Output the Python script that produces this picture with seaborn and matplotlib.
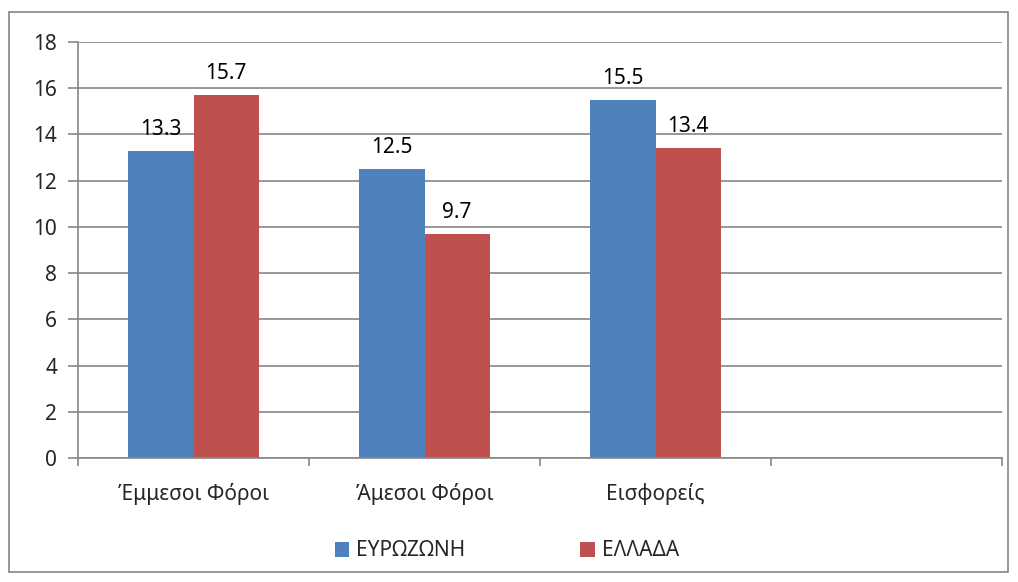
import matplotlib
matplotlib.use("Agg")
import matplotlib.pyplot as plt
from matplotlib.patches import Rectangle
import pandas as pd
import seaborn as sns

# Data
categories = ['Έμμεσοι Φόροι', 'Άμεσοι Φόροι', 'Εισφορείς']
eurozone = [13.3, 12.5, 15.5]
greece = [15.7, 9.7, 13.4]
series_names = ['ΕΥΡΩΖΩΝΗ', 'ΕΛΛΑΔΑ']
yticks = [0, 2, 4, 6, 8, 10, 12, 14, 16, 18]

df = pd.DataFrame({
    'category': categories * 2,
    'value': eurozone + greece,
    'series': [series_names[0]] * len(categories) + [series_names[1]] * len(categories),
})

sns.set_theme(style='white')
plt.rcParams['font.family'] = ['Noto Sans', 'DejaVu Sans']

fs = 15
grid_col = '#868686'
fig = plt.figure(figsize=(10.18, 5.82), dpi=100)
ax = fig.add_axes([78 / 1018, 1 - 458 / 582, (1002 - 78) / 1018, (458 - 42) / 582])

sns.barplot(data=df, x='category', y='value', hue='series',
            order=categories + [' '],
            palette=['#4F81BD', '#C0504D'], width=0.565,
            saturation=1, ax=ax, legend=True, linewidth=0)

for cont in ax.containers:
    ax.bar_label(cont, fmt='%.1f', padding=8, fontsize=fs, color='black')

ax.set_xlim(-0.5, 3.5)
ax.set_ylim(0, 18)
ax.set_yticks(yticks)
ax.set_yticklabels([str(t) for t in yticks], fontsize=fs)
ax.yaxis.grid(True, color=grid_col, linewidth=1.2)
ax.set_axisbelow(True)
ax.set_xlabel('')
ax.set_ylabel('')
ax.set_xticks(range(4))
ax.set_xticklabels(categories + [''], fontsize=fs)
ax.set_xticks([-0.5, 0.5, 1.5, 2.5, 3.5], minor=True)
ax.tick_params(axis='x', which='major', length=0, pad=18)
ax.tick_params(axis='x', which='minor', length=6, color=grid_col, width=1.2, direction='out', bottom=True)
ax.tick_params(axis='y', length=7, color=grid_col, width=1.2, left=True, pad=8)

for side in ['top', 'right']:
    ax.spines[side].set_visible(False)
for side in ['left', 'bottom']:
    ax.spines[side].set_color(grid_col)
    ax.spines[side].set_linewidth(1.2)

leg = ax.legend(loc='center', bbox_to_anchor=(507 / 1018, 1 - 551 / 582), bbox_transform=fig.transFigure,
                ncol=2, frameon=False, fontsize=fs, handlelength=0.7, handleheight=0.7,
                handletextpad=0.35, columnspacing=5.5)

fig.patches.append(Rectangle((9 / 1018, 1 - 572 / 582), (1008 - 9) / 1018, (572 - 12) / 582,
                             transform=fig.transFigure, fill=False, edgecolor=grid_col, linewidth=1.2))

fig.savefig('out.png', dpi=100)
